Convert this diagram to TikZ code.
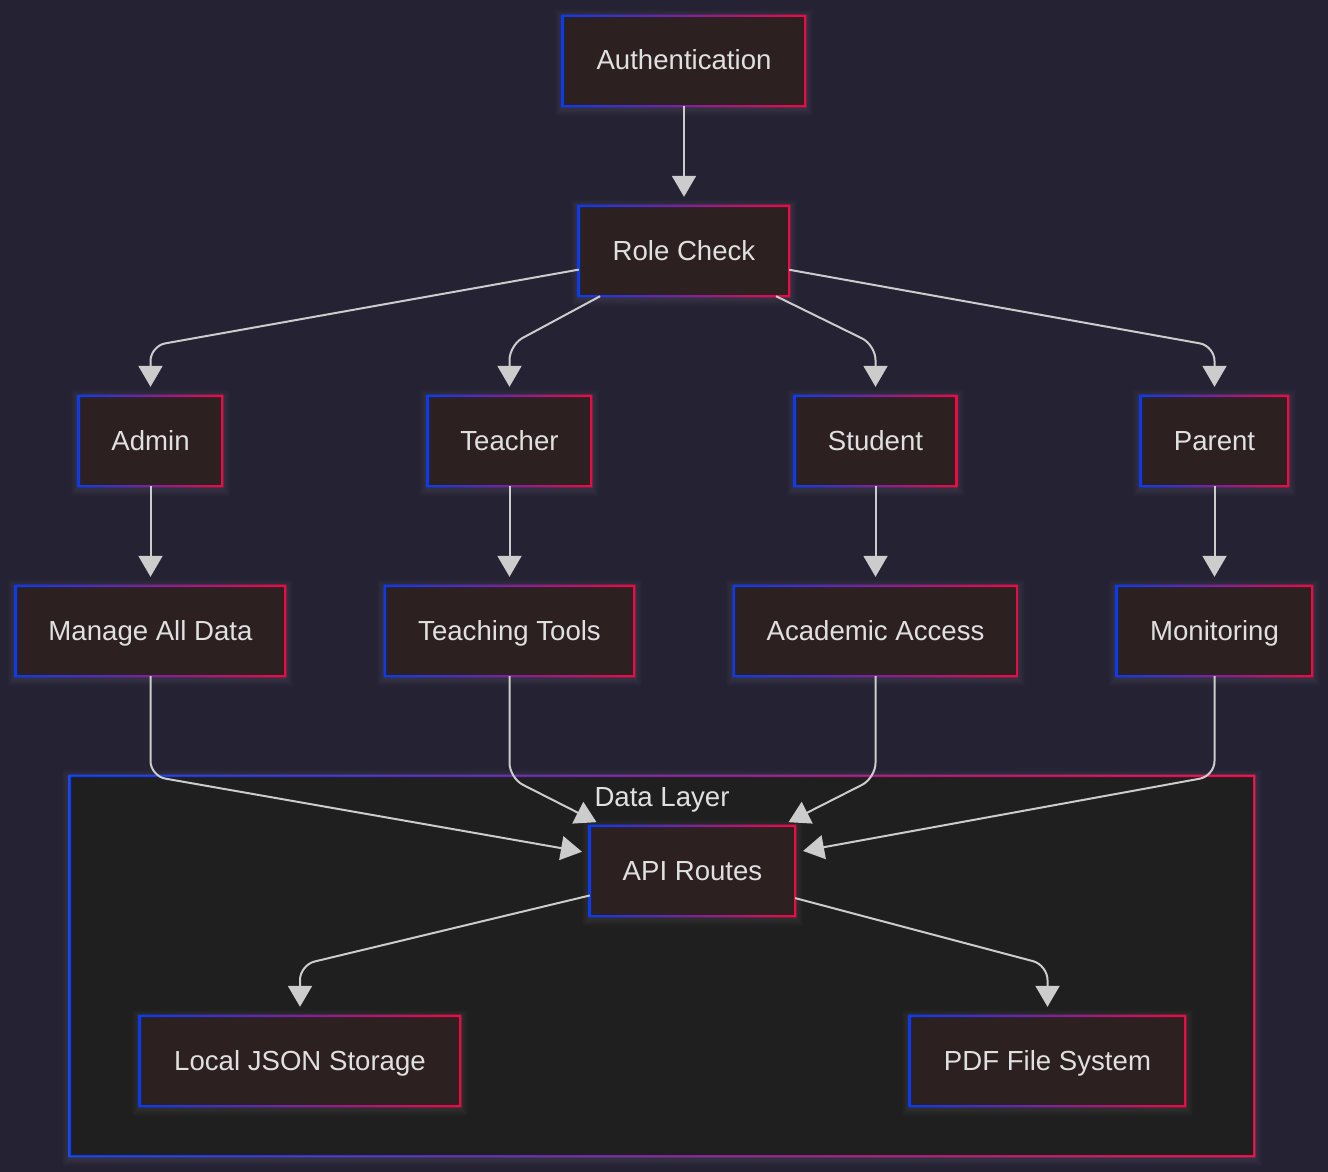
\documentclass[tikz,border=0pt]{standalone}
\usepackage{fontspec}
\setmainfont{Liberation Sans}
\usetikzlibrary{arrows.meta,calc}
\pgfdeclarelayer{back}
\pgfdeclarelayer{glow}
\pgfsetlayers{back,glow,main}
\definecolor{pagebg}{HTML}{252333}
\definecolor{clusterbg}{HTML}{1F1F1F}
\definecolor{nodebg}{HTML}{2C2020}
\definecolor{gblue}{HTML}{0B3BEE}
\definecolor{gred}{HTML}{EE0A44}
\definecolor{txt}{HTML}{E0E0E0}
\definecolor{edgec}{HTML}{CCCCCC}
\tikzset{
  box/.style={rectangle, fill=nodebg, text=txt, inner sep=0pt, minimum height=90pt,
    text height=20pt, text depth=2pt, font=\fontsize{27.6}{33}\selectfont},
  lbl/.style={text=txt, inner sep=0pt, text height=20pt, text depth=2pt,
    font=\fontsize{27.6}{33}\selectfont},
  edge/.style={draw=edgec, line width=2pt, rounded corners=15pt,
    -{Triangle[length=21pt,width=24pt]}, shorten >=9pt},
}
\newcommand{\gradframe}[1]{%
  \shade[left color=gblue, right color=gred, even odd rule]
    ($(#1.south west)+(-1.2,1.2)$) rectangle ($(#1.north east)+(1.2,-1.2)$)
    ($(#1.south west)+(1.2,-1.2)$) rectangle ($(#1.north east)+(-1.2,1.2)$);
}
\newcommand{\glowbox}[1]{%
  \begin{pgfonlayer}{glow}
  \foreach \k in {2,3,...,8}{%
    \fill[white, opacity=0.012, even odd rule]
      ($(#1.south west)+(-\k,\k+2)$) rectangle ($(#1.north east)+(\k,-\k+2)$)
      (#1.south west) rectangle (#1.north east);
  }
  \end{pgfonlayer}%
}
\begin{document}
\begin{tikzpicture}[x=1pt, y=-1pt]
\begin{pgfonlayer}{back}
  \fill[pagebg] (0,0) rectangle (1328,1172);
\end{pgfonlayer}
\useasboundingbox (0,0) rectangle (1328,1172);

% cluster
\node[rectangle, inner sep=0pt, minimum width=1184pt, minimum height=380pt] (dl) at (662,966) {};
\begin{pgfonlayer}{back}
  \fill[clusterbg] (dl.south west) rectangle (dl.north east);
  \gradframe{dl}
\end{pgfonlayer}
\glowbox{dl}
\node[lbl] (dllabel) at (662,797) {Data Layer};

% nodes
\node[box, minimum width=242pt] (auth) at (684,61) {Authentication};
\node[box, minimum width=210pt] (rc) at (684,251) {Role Check};
\node[box, minimum width=143pt] (admin) at (150.5,441) {Admin};
\node[box, minimum width=163pt] (teacher) at (509.5,441) {Teacher};
\node[box, minimum width=161pt] (student) at (875.5,441) {Student};
\node[box, minimum width=147pt] (parent) at (1214.5,441) {Parent};
\node[box, minimum width=269pt] (manage) at (150.5,631) {Manage All Data};
\node[box, minimum width=249pt] (teaching) at (509.5,631) {Teaching Tools};
\node[box, minimum width=283pt] (academic) at (875.5,631) {Academic Access};
\node[box, minimum width=195pt] (monitor) at (1214.5,631) {Monitoring};
\node[box, minimum width=205pt] (api) at (692.5,871) {API Routes};
\node[box, minimum width=320pt] (local) at (300,1061) {Local JSON Storage};
\node[box, minimum width=275pt] (pdf) at (1047.5,1061) {PDF File System};

\foreach \n in {auth,rc,admin,teacher,student,parent,manage,teaching,academic,monitor,api,local,pdf}{%
  \gradframe{\n}
  \glowbox{\n}
}

% bend points
\coordinate (cA) at (150.5,346);
\coordinate (cT) at (509.5,345);
\coordinate (cS) at (875.5,345);
\coordinate (cP) at (1214.5,346);
\coordinate (dM) at (150.5,776);
\coordinate (dT) at (509.5,778);
\coordinate (dA) at (875.5,778);
\coordinate (dP) at (1214.5,776);
\coordinate (eL) at (300,965);
\coordinate (eP) at (1047.5,965);

% edges
\draw[edge] (auth) -- (rc);
\draw[edge] (rc) -- (cA) -- (admin);
\draw[edge] (rc) -- (cT) -- (teacher);
\draw[edge] (rc) -- (cS) -- (student);
\draw[edge] (rc) -- (cP) -- (parent);
\draw[edge] (admin) -- (manage);
\draw[edge] (teacher) -- (teaching);
\draw[edge] (student) -- (academic);
\draw[edge] (parent) -- (monitor);
\draw[edge, shorten >=8pt] (manage) -- (dM) -- (api);
\draw[edge, shorten >=8pt] (teaching) -- (dT) -- (api);
\draw[edge, shorten >=8pt] (academic) -- (dA) -- (api);
\draw[edge, shorten >=8pt] (monitor) -- (dP) -- (api);
\draw[edge] (api) -- (eL) -- (local);
\draw[edge] (api) -- (eP) -- (pdf);
\end{tikzpicture}
\end{document}
